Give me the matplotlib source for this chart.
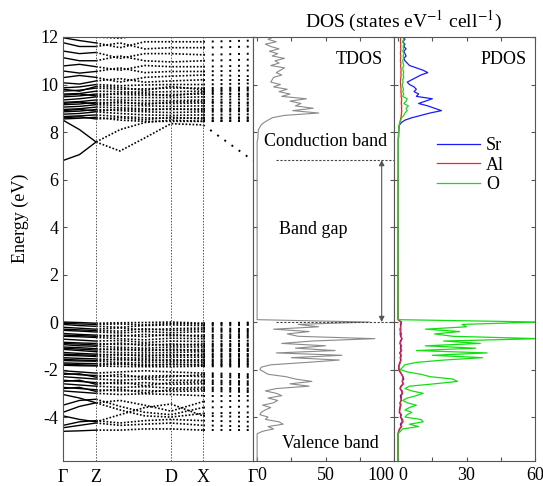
import numpy as np
import matplotlib.pyplot as plt

plt.rcParams['font.family'] = ['Liberation Serif', 'DejaVu Serif']
plt.rcParams['mathtext.fontset'] = 'stix'
plt.rcParams['axes.unicode_minus'] = False

# k-path nodes (fraction of path): Γ, mid, Z, ZD1, ZD2, D, X, Γ
k_nodes = [0.0, 0.087, 0.174, 0.30, 0.43, 0.568, 0.737, 1.0]
k_ticks = [0.0, 0.174, 0.568, 0.737, 1.0]
k_labels = ['Γ', 'Z', 'D', 'X', 'Γ']

valence_bands = [
    [0.00, -0.02, -0.05, -0.03, -0.02, 0.00, -0.05, -0.02],
    [-0.05, -0.08, -0.10, -0.08, -0.12, -0.06, -0.08, -0.06],
    [-0.10, -0.15, -0.18, -0.22, -0.15, -0.12, -0.15, -0.12],
    [-0.22, -0.26, -0.30, -0.25, -0.33, -0.28, -0.25, -0.30],
    [-0.30, -0.33, -0.36, -0.38, -0.28, -0.35, -0.32, -0.36],
    [-0.35, -0.38, -0.42, -0.46, -0.40, -0.45, -0.40, -0.42],
    [-0.48, -0.52, -0.55, -0.60, -0.52, -0.58, -0.55, -0.50],
    [-0.55, -0.57, -0.60, -0.55, -0.62, -0.52, -0.62, -0.58],
    [-0.60, -0.62, -0.65, -0.70, -0.75, -0.68, -0.70, -0.65],
    [-0.72, -0.76, -0.80, -0.78, -0.86, -0.80, -0.82, -0.78],
    [-0.85, -0.88, -0.90, -0.95, -0.92, -0.98, -0.92, -0.90],
    [-0.90, -0.93, -0.97, -0.88, -1.00, -0.92, -0.98, -0.95],
    [-0.95, -1.00, -1.02, -1.06, -1.10, -1.05, -1.05, -1.00],
    [-1.05, -1.08, -1.12, -1.18, -1.15, -1.20, -1.15, -1.12],
    [-1.10, -1.14, -1.18, -1.12, -1.22, -1.14, -1.20, -1.18],
    [-1.15, -1.20, -1.25, -1.28, -1.30, -1.28, -1.25, -1.22],
    [-1.28, -1.32, -1.35, -1.40, -1.38, -1.42, -1.35, -1.35],
    [-1.35, -1.38, -1.40, -1.35, -1.45, -1.36, -1.42, -1.40],
    [-1.40, -1.42, -1.45, -1.50, -1.52, -1.48, -1.48, -1.45],
    [-1.50, -1.53, -1.55, -1.60, -1.58, -1.62, -1.58, -1.55],
    [-1.57, -1.60, -1.62, -1.55, -1.65, -1.58, -1.64, -1.62],
    [-1.62, -1.64, -1.65, -1.70, -1.72, -1.68, -1.70, -1.68],
    [-1.72, -1.74, -1.75, -1.78, -1.80, -1.80, -1.78, -1.78],
    [-1.77, -1.80, -1.82, -1.74, -1.84, -1.76, -1.82, -1.80],
    [-1.82, -1.84, -1.85, -1.87, -1.88, -1.88, -1.86, -1.88],
    [-2.05, -2.10, -2.15, -2.10, -2.05, -2.10, -2.15, -2.20],
    [-2.15, -2.22, -2.25, -2.30, -2.28, -2.25, -2.30, -2.35],
    [-2.20, -2.18, -2.32, -2.20, -2.35, -2.30, -2.22, -2.28],
    [-2.30, -2.35, -2.40, -2.45, -2.40, -2.45, -2.45, -2.50],
    [-2.45, -2.50, -2.55, -2.60, -2.55, -2.62, -2.60, -2.65],
    [-2.50, -2.45, -2.62, -2.52, -2.68, -2.55, -2.52, -2.58],
    [-2.60, -2.65, -2.70, -2.75, -2.72, -2.78, -2.75, -2.80],
    [-2.75, -2.80, -2.85, -2.90, -2.88, -2.92, -2.90, -2.95],
    [-2.80, -2.75, -2.92, -2.82, -2.98, -2.85, -2.82, -2.88],
    [-2.90, -2.95, -3.00, -3.05, -3.02, -3.05, -3.10, -3.10],
    [-3.05, -3.20, -3.40, -3.30, -3.50, -3.75, -3.35, -3.30],
    [-3.50, -3.30, -3.25, -3.55, -3.80, -3.90, -3.60, -3.55],
    [-3.80, -3.55, -3.40, -3.70, -3.95, -4.00, -3.85, -3.80],
    [-3.95, -4.10, -4.20, -3.90, -3.60, -3.45, -3.95, -4.00],
    [-4.35, -4.20, -4.15, -4.25, -4.15, -4.10, -4.15, -4.20],
    [-4.45, -4.35, -4.25, -4.35, -4.30, -4.25, -4.35, -4.40],
    [-4.60, -4.58, -4.55, -4.55, -4.50, -4.50, -4.55, -4.55],
]

conduction_bands = [
    [6.80, 7.05, 7.58, 7.20, 7.75, 8.35, 8.30, 6.80],
    [8.50, 8.10, 7.58, 8.10, 8.40, 8.50, 8.45, 8.45],
    [8.55, 8.58, 8.62, 8.50, 8.45, 8.45, 8.45, 8.50],
    [8.60, 8.64, 8.55, 8.60, 8.52, 8.62, 8.55, 8.58],
    [8.65, 8.68, 8.72, 8.65, 8.60, 8.58, 8.60, 8.62],
    [8.75, 8.78, 8.85, 8.78, 8.72, 8.70, 8.72, 8.75],
    [8.85, 8.88, 8.95, 8.90, 8.85, 8.82, 8.85, 8.88],
    [8.90, 8.95, 8.88, 8.96, 8.92, 8.98, 8.92, 8.94],
    [8.95, 8.98, 9.05, 9.02, 8.98, 8.95, 8.98, 9.00],
    [9.05, 9.08, 9.15, 9.12, 9.10, 9.08, 9.10, 9.12],
    [9.15, 9.18, 9.25, 9.22, 9.22, 9.20, 9.22, 9.25],
    [9.20, 9.26, 9.18, 9.28, 9.16, 9.26, 9.28, 9.20],
    [9.25, 9.28, 9.35, 9.35, 9.32, 9.32, 9.35, 9.38],
    [9.35, 9.40, 9.48, 9.45, 9.45, 9.45, 9.48, 9.50],
    [9.48, 9.52, 9.60, 9.58, 9.55, 9.58, 9.60, 9.62],
    [9.55, 9.60, 9.52, 9.64, 9.62, 9.52, 9.66, 9.56],
    [9.60, 9.62, 9.72, 9.70, 9.68, 9.70, 9.72, 9.75],
    [9.72, 9.76, 9.85, 9.80, 9.82, 9.85, 9.85, 9.88],
    [9.80, 9.72, 9.92, 9.88, 9.75, 9.92, 9.78, 9.82],
    [9.86, 9.90, 10.00, 9.95, 9.98, 10.00, 10.00, 10.05],
    [10.07, 10.02, 10.15, 10.25, 10.10, 10.15, 10.20, 10.20],
    [10.29, 10.38, 10.30, 10.10, 10.30, 10.35, 10.40, 10.35],
    [10.57, 10.48, 10.55, 10.70, 10.50, 10.55, 10.55, 10.60],
    [10.78, 10.85, 10.75, 10.60, 10.80, 10.75, 10.75, 10.80],
    [11.13, 11.00, 11.00, 11.20, 11.00, 10.95, 11.00, 11.05],
    [11.41, 11.30, 11.35, 11.10, 11.30, 11.30, 11.25, 11.30],
    [11.76, 11.60, 11.60, 11.75, 11.50, 11.55, 11.55, 11.60],
    [11.97, 11.85, 11.75, 11.55, 11.80, 11.80, 11.80, 11.85],
    [12.20, 12.05, 12.00, 11.95, 12.10, 12.00, 12.05, 12.10],
]

# DOS energy grids (eV)
e_val = np.linspace(0.1, -4.7, 49)
e_con = np.linspace(7.6, 12.0, 45)

tdos_val = [0, 82, 30, 45, 12, 38, 22, 30, 86, 40, 18, 50, 28, 57, 14, 62, 25, 60, 36, 10,
            3, 2, 5, 8, 21, 28, 40, 24, 38, 14, 6, 14, 18, 8, 15, 12, 4, 10, 6, 3,
            2, 8, 6, 16, 19, 8, 12, 4, 0]
tdos_con = [0, 0.5, 0.6, 0.7, 0.8, 1.0, 2.0, 3.0, 5.0, 8.0, 11, 20, 45, 26, 41, 28, 32, 24, 36, 18,
            24, 16, 22, 12, 17, 10, 11, 12, 18, 14, 17, 20, 10, 16, 13, 20, 11, 15, 9, 16,
            10, 6, 14, 8, 12]

sr_val = [0, 1.5, 1.0, 1.2, 0.8, 1.0, 0.9, 1.1, 1.6, 1.0, 0.8, 1.2, 1.0, 1.3, 0.7, 1.2, 0.9, 1.1, 0.8, 0.4,
          0.3, 0.3, 0.8, 1.5, 2.0, 2.5, 1.8, 2.2, 1.2, 0.8, 1.5, 1.8, 1.0, 1.2, 1.4, 0.8, 1.0, 0.8, 0.6, 0.5,
          1.2, 1.0, 1.6, 1.8, 1.0, 1.4, 0.6, 0.2, 0]
al_val = [0, 1.2, 1.4, 1.0, 1.3, 1.1, 1.5, 1.2, 1.8, 1.3, 1.0, 1.5, 1.2, 1.6, 1.0, 1.4, 1.2, 1.3, 1.0, 0.6,
          0.4, 0.5, 1.0, 1.6, 2.2, 2.0, 1.8, 2.4, 1.5, 1.0, 1.8, 2.0, 1.4, 1.5, 1.2, 1.0, 1.3, 1.0, 0.8, 0.7,
          1.5, 1.2, 2.0, 2.2, 1.4, 1.6, 0.8, 0.3, 0]
o_val = [0, 62, 28, 30, 12, 27, 16, 24, 62, 20, 36, 12, 34, 8, 39, 15, 37, 20, 8, 3,
         2, 1, 4, 10, 14, 24, 26, 16, 5, 3, 6, 11, 8, 4, 2, 4, 8, 5, 3, 6,
         4, 3, 10, 11, 5, 9, 2, 1, 0]

sr_con = [0.1, 0.1, 0.2, 0.2, 0.2, 0.3, 0.3, 0.6, 1.5, 3, 6, 10, 14, 19, 16, 13, 9, 12, 15, 8,
          9, 7, 8, 7, 5, 4, 6, 8, 10, 13, 11, 8, 5, 4, 3, 2.5, 3.5, 3, 2.5, 3.5,
          2.5, 3, 2, 3, 2.5]
al_con = [0.1, 0.1, 0.2, 0.2, 0.3, 0.3, 0.4, 0.6, 0.8, 1.0, 1.2, 1.4, 1.5, 1.6, 1.5, 1.6, 1.4, 1.5, 1.6, 1.3,
          1.4, 1.2, 1.3, 1.2, 1.1, 1.0, 1.1, 1.2, 1.3, 1.2, 1.3, 1.2, 1.1, 1.2, 1.0, 1.1, 1.2, 1.0, 1.1, 1.2,
          1.1, 1.2, 1.0, 1.1, 1.2]
o_con = [0.1, 0.1, 0.1, 0.2, 0.2, 0.2, 0.3, 0.5, 0.8, 1.2, 1.5, 2.5, 3.0, 4.0, 3.5, 4.5, 2.5, 3.5, 4.0, 2.0,
         2.5, 2.0, 2.4, 2.0, 1.8, 2.2, 2.0, 2.5, 2.2, 2.4, 2.2, 2.0, 2.5, 2.2, 2.0, 2.4, 2.2, 2.6, 2.0, 2.4,
         2.2, 2.6, 2.0, 2.5, 2.3]

vbm = 0.0
cbm = 6.82


def full_curve(val, con):
    # valence + gap + conduction, zero outside the bands
    e = np.concatenate([[-5.9], e_val[::-1], e_con, [12.1]])
    d = np.concatenate([[0], np.array(val, float)[::-1], np.array(con, float), [0]])
    return e, d


fig = plt.figure(figsize=(5.43, 4.86), dpi=100)
H = 486.0
W = 543.0
bot = (486 - 461) / H
hgt = (461 - 37) / H
ax_b = fig.add_axes([63 / W, bot, 190 / W, hgt])
ax_t = fig.add_axes([253 / W, bot, 141 / W, hgt], sharey=ax_b)
ax_p = fig.add_axes([394 / W, bot, 141 / W, hgt], sharey=ax_b)

spine_col = '#555555'
fs = 13

# band structure
k = np.array(k_nodes)
for band in valence_bands + conduction_bands:
    b = np.array(band)
    ax_b.plot(k[:3], b[:3], color='k', lw=1.0)
    ax_b.plot(k[2:7], b[2:7], color='k', lw=1.2, ls=(0, (1, 1.1)))
    ax_b.plot(k[6:], b[6:], color='k', lw=1.4, ls=(0, (1, 3.5)))
for kx in k_ticks[1:-1]:
    ax_b.axvline(kx, color=spine_col, lw=0.7, ls=(0, (1.5, 1.5)))
ax_b.set_xlim(0, 1)
ax_b.set_ylim(-5.85, 12)
ax_b.set_xticks(k_ticks)
ax_b.set_xticklabels(k_labels, fontsize=fs)
ax_b.tick_params(axis='x', length=0, pad=6)
ax_b.set_yticks([-4, 0, 4, 8, 12])
ax_b.set_yticks([-2, 2, 6, 10], minor=True)
ax_b.tick_params(axis='y', which='both', direction='in', labelsize=fs, color=spine_col)
ax_b.tick_params(axis='y', which='major', length=3)
ax_b.tick_params(axis='y', which='minor', length=2)
fig.text(0.037, 0.55, 'Energy (eV)', rotation=90, ha='center', va='center', fontsize=fs)

# total DOS
e, d = full_curve(tdos_val, tdos_con)
ax_t.plot(d, e, color='#8a8a8a', lw=0.8)
ax_t.set_xlim(-3, 100)
ax_t.set_xticks([0, 25, 50, 75, 100])
ax_t.set_xticklabels(['0', '', '50', '', '100'], fontsize=fs)
ax_t.xaxis.get_major_ticks()[0].label1.set_horizontalalignment('left')
ax_t.xaxis.get_major_ticks()[4].label1.set_horizontalalignment('right')

ax_t.plot([14, 113], [cbm, cbm], color='#444444', lw=0.8, ls=(0, (2, 1.5)), clip_on=False)
ax_t.plot([14, 113], [vbm, vbm], color='#444444', lw=0.8, ls=(0, (2, 1.5)), clip_on=False)
ax_t.annotate('', xy=(91, cbm), xytext=(91, vbm),
              arrowprops=dict(arrowstyle='<|-|>', color='#555555', lw=0.8,
                              mutation_scale=8, shrinkA=0, shrinkB=0))
ax_t.text(74.6, 11.07, 'TDOS', ha='center', va='center', fontsize=fs)
ax_t.text(50, 7.62, 'Conduction band', ha='center', va='center', fontsize=fs)
ax_t.text(41, 3.9, 'Band gap', ha='center', va='center', fontsize=fs)
ax_t.text(53.6, -5.1, 'Valence band', ha='center', va='center', fontsize=fs)

# partial DOS
e, d_sr = full_curve(sr_val, sr_con)
e, d_al = full_curve(al_val, al_con)
e, d_o = full_curve(o_val, o_con)
l_sr, = ax_p.plot(d_sr, e, color='#1a1aff', lw=0.9, label='Sr')
l_al, = ax_p.plot(d_al, e, color='#ff2020', lw=0.9, label='Al')
l_o, = ax_p.plot(d_o, e, color='#10e010', lw=0.9, label='O')
ax_p.set_xlim(-1.8, 60)
ax_p.set_xticks([0, 15, 30, 45, 60])
ax_p.set_xticklabels(['0', '', '30', '', '60'], fontsize=fs)
ax_p.xaxis.get_major_ticks()[0].label1.set_horizontalalignment('left')
ax_p.text(46.3, 11.07, 'PDOS', ha='center', va='center', fontsize=fs)
ax_p.legend(handles=[l_sr, l_al, l_o], loc='upper left', bbox_to_anchor=(0.305, 0.764),
            frameon=False, fontsize=fs, handlelength=2.4, handletextpad=0.3,
            labelspacing=0.15, borderpad=0, borderaxespad=0)

for ax in (ax_t, ax_p):
    ax.set_yticks(np.arange(-4, 13, 2))
    ax.tick_params(axis='y', left=True, right=True, labelleft=False, direction='in',
                   length=3, color=spine_col)
    ax.tick_params(axis='x', top=True, bottom=True, direction='in', length=3,
                   color=spine_col, pad=4)

for ax in (ax_b, ax_t, ax_p):
    for s in ax.spines.values():
        s.set_color(spine_col)
        s.set_linewidth(0.8)

fig.text(403 / W, 1 - 21 / H, 'DOS (states eV$^{\\mathrm{-1}}$ cell$^{\\mathrm{-1}}$)',
         ha='center', va='center', fontsize=14)

fig.savefig('out.png', dpi=100)
